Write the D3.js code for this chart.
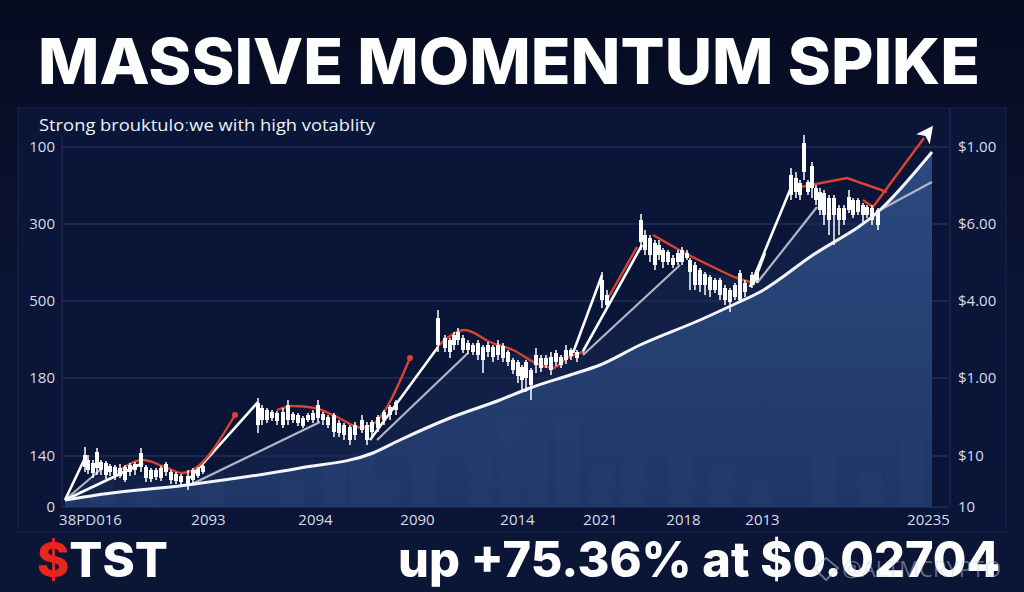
<!DOCTYPE html>
<html lang="en">
<head>
    <meta charset="UTF-8">
    <title>Massive Momentum Spike</title>
    <style>
        body { margin: 0; background: #070d24; }
        text { font-family: 'Open Sans', sans-serif; }
        .axis text { font-size: 15px; fill: #d6dcea; }
        .axis path, .axis line { display: none; }
    </style>
</head>
<body>
<script src="https://d3js.org/d3.v7.min.js"></script>
<script>

    const size = {'width': 1024, 'height': 592};
    const plot = {'left': 62, 'right': 948, 'top': 147, 'bottom': 507};

    // axis ticks (the chart's own odd labels)
    const leftTicks = [360, 283, 206, 129, 51, 0];
    const leftLabels = ['100', '300', '500', '180', '140', '0'];
    const rightLabels = ['$1.00', '$6.00', '$4.00', '$1.00', '$10', '10'];
    const xTicks = [28, 146, 253, 355, 455, 538, 621, 700, 866];
    const xLabels = ['38PD016', '2093', '2094', '2090', '2014', '2021', '2018', '2013', '20235'];

    // long smooth trend
    const trendDays = [3, 35, 125, 238, 311, 338, 388, 438, 468, 508, 538, 578, 638, 675, 698, 748, 818, 870];
    const trendVals = [7, 12, 22, 39, 54, 67, 89, 107, 119, 132, 142, 162, 187, 204, 215, 250, 297, 355];

    // faint envelope under the fan lines
    const envelope = [[3, 7], [38, 37], [128, 25], [258, 85], [315, 67], [406, 154], [521, 152],
        [618, 242], [695, 224], [755, 300], [818, 297], [870, 325]];

    // candles: [day, high, bodyTop, bodyBottom, low]
    const candles = [
        [23, 60, 52, 40, 35], [26, 52, 47, 37, 33], [31, 47, 44, 34, 29], [35, 59, 55, 39, 32],
        [39, 47, 45, 37, 32], [44, 46, 44, 32, 28], [48, 43, 41, 35, 31], [53, 42, 40, 32, 27],
        [58, 43, 39, 31, 29], [63, 42, 40, 27, 25], [68, 44, 42, 35, 31], [73, 45, 43, 37, 32],
        [79, 59, 54, 40, 35], [84, 42, 40, 29, 25], [89, 39, 37, 28, 25], [94, 39, 37, 30, 27],
        [99, 41, 39, 29, 26], [104, 45, 43, 35, 31], [109, 37, 35, 27, 23], [114, 35, 33, 26, 23],
        [119, 33, 31, 25, 22], [126, 37, 31, 21, 17], [131, 39, 37, 27, 24], [136, 40, 38, 31, 29],
        [141, 42, 41, 35, 33],
        [196, 109, 104, 82, 74], [200, 102, 99, 87, 82], [205, 99, 97, 87, 84], [210, 97, 95, 89, 86],
        [215, 96, 94, 86, 82], [221, 99, 95, 82, 79], [226, 107, 102, 87, 82], [231, 95, 93, 87, 84],
        [236, 94, 92, 84, 81], [241, 91, 89, 81, 79], [246, 94, 92, 87, 85], [251, 97, 94, 87, 84],
        [256, 107, 102, 89, 85], [261, 95, 93, 87, 82], [266, 92, 90, 82, 79], [272, 94, 92, 75, 70],
        [277, 87, 84, 74, 70], [282, 84, 82, 72, 67], [288, 82, 80, 67, 62], [293, 85, 82, 72, 67],
        [300, 92, 87, 77, 74], [305, 85, 82, 67, 62], [310, 87, 85, 75, 69], [316, 92, 90, 79, 75],
        [322, 97, 95, 87, 82], [328, 102, 100, 92, 87], [334, 107, 105, 97, 92],
        [376, 197, 189, 162, 155], [383, 172, 169, 159, 155], [388, 169, 167, 155, 149],
        [392, 175, 172, 162, 157], [396, 179, 175, 167, 162], [401, 172, 169, 157, 154],
        [406, 167, 164, 157, 153], [411, 164, 162, 155, 152], [416, 167, 164, 152, 147],
        [421, 162, 160, 147, 134], [426, 165, 162, 155, 150], [431, 162, 160, 150, 145],
        [436, 167, 162, 152, 147], [441, 164, 161, 149, 145], [446, 157, 155, 145, 141],
        [451, 149, 147, 137, 133], [456, 147, 145, 131, 124], [460, 142, 140, 127, 117],
        [464, 147, 145, 129, 115], [469, 139, 137, 122, 107], [474, 159, 152, 142, 134],
        [479, 152, 149, 139, 135], [484, 152, 149, 142, 139], [489, 155, 150, 137, 132],
        [494, 157, 154, 145, 141], [499, 152, 150, 142, 139], [504, 162, 157, 147, 143],
        [509, 159, 157, 151, 147], [515, 157, 155, 149, 145],
        [540, 235, 227, 207, 199], [545, 217, 212, 202, 199],
        [579, 293, 287, 265, 257], [583, 277, 272, 257, 252], [588, 272, 269, 252, 245],
        [593, 267, 264, 242, 237], [597, 267, 262, 252, 247], [601, 259, 257, 245, 239],
        [606, 257, 255, 245, 242], [611, 252, 249, 242, 239], [616, 257, 254, 245, 242],
        [620, 260, 257, 245, 242], [625, 257, 254, 249, 247], [628, 249, 247, 235, 217],
        [633, 245, 242, 222, 217], [638, 239, 237, 222, 215], [643, 235, 233, 222, 212],
        [648, 232, 230, 217, 210], [653, 229, 227, 217, 214], [658, 229, 227, 212, 207],
        [663, 222, 219, 207, 202], [668, 219, 217, 205, 195], [673, 224, 222, 210, 207],
        [678, 237, 234, 207, 204], [683, 227, 224, 215, 210], [690, 235, 232, 222, 219],
        [695, 239, 237, 227, 224],
        [729, 339, 332, 312, 307], [734, 335, 329, 315, 309], [738, 327, 324, 312, 307],
        [742, 372, 364, 335, 327], [746, 327, 325, 315, 312], [750, 345, 341, 319, 309],
        [754, 322, 319, 307, 302], [758, 319, 315, 297, 292], [762, 317, 314, 292, 282],
        [767, 312, 309, 287, 272], [772, 312, 309, 292, 262], [777, 302, 299, 287, 272],
        [782, 302, 299, 287, 282], [787, 317, 310, 297, 294], [791, 309, 307, 292, 289],
        [796, 309, 307, 295, 292], [801, 304, 302, 292, 285], [805, 302, 300, 292, 289],
        [810, 302, 299, 287, 282], [816, 299, 297, 282, 277]
    ];

    // white rally lines
    const swings = [
        [[3, 7], [23, 49]],
        [[3, 7], [81, 44]],
        [[128, 29], [196, 105]],
        [[308, 67], [376, 160]],
        [[511, 154], [540, 232]],
        [[520, 154], [580, 262]],
        [[688, 220], [728, 317]],
        [[691, 222], [703, 254]]
    ];

    // grey support lines
    const supports = [
        [[3, 7], [38, 37]],
        [[128, 22], [258, 85]],
        [[315, 67], [406, 154]],
        [[521, 152], [618, 242]],
        [[695, 224], [755, 300]],
        [[818, 297], [870, 325]]
    ];

    // red moving average pieces
    const averages = [
        [[55, 35], [81, 47], [103, 40], [120, 34], [126, 35], [173, 92]],
        [[215, 97], [231, 101], [253, 99], [271, 92], [301, 79], [310, 82], [348, 149]],
        [[375, 160], [403, 177], [428, 165], [451, 157], [478, 142], [491, 139], [505, 149], [521, 155]],
        [[545, 207], [575, 260]],
        [[591, 272], [621, 255], [651, 240], [675, 229], [688, 225]],
        [[733, 319], [785, 329], [825, 315]],
        [[801, 307], [811, 300], [862, 369]]
    ];
    const averageDots = [[173, 92], [348, 149]];

    // faint volume blocks: [day, volume]
    const volume = [[40, 30], [85, 22], [150, 35], [230, 28], [272, 40], [300, 55], [325, 30],
        [362, 45], [420, 62], [448, 90], [474, 70], [505, 88], [540, 40], [572, 45], [620, 55],
        [660, 38], [700, 25], [762, 52], [808, 35], [850, 68]];

    let svg = d3.select('body').append('svg')
        .attr('width', size.width)
        .attr('height', size.height);

    let defs = svg.append('defs');
    let bg = defs.append('linearGradient').attr('id', 'bg').attr('x1', 0).attr('y1', 0).attr('x2', 0).attr('y2', 1);
    bg.append('stop').attr('offset', '0%').attr('stop-color', '#060b20');
    bg.append('stop').attr('offset', '55%').attr('stop-color', '#0b1536');
    bg.append('stop').attr('offset', '100%').attr('stop-color', '#0b1535');

    let fillGrad = defs.append('linearGradient').attr('id', 'fillGrad')
        .attr('gradientUnits', 'userSpaceOnUse')
        .attr('x1', 0).attr('y1', plot.top).attr('x2', 0).attr('y2', plot.bottom);
    fillGrad.append('stop').attr('offset', '0%').attr('stop-color', '#2c4a80');
    fillGrad.append('stop').attr('offset', '100%').attr('stop-color', '#1f3767');

    defs.append('marker')
        .attr('id', 'arrow')
        .attr('viewBox', '0 0 10 10')
        .attr('refX', 1).attr('refY', 5)
        .attr('markerWidth', 7).attr('markerHeight', 7)
        .attr('markerUnits', 'strokeWidth')
        .attr('orient', 'auto')
        .append('path')
        .attr('d', 'M0,0 L10,5 L0,10 L2.5,5 Z')
        .style('fill', '#fff');

    svg.append('rect')
        .attr('width', size.width)
        .attr('height', size.height)
        .style('fill', 'url(#bg)');

    // panel
    svg.append('rect')
        .attr('x', 18).attr('y', 108)
        .attr('width', 988).attr('height', 424)
        .style('fill', '#0b1537')
        .style('stroke', '#18244a')
        .style('stroke-width', 1);

    let x = d3.scaleLinear().domain([0, 886]).range([plot.left, plot.right]);
    let y = d3.scaleLinear().domain([0, 360]).range([plot.bottom, plot.top]);

    // grid
    svg.append('g').selectAll('line')
        .data(leftTicks)
        .enter().append('line')
        .attr('x1', plot.left).attr('x2', plot.right)
        .attr('y1', d => y(d)).attr('y2', d => y(d))
        .style('stroke', '#2b3b68')
        .style('stroke-width', 1);

    svg.append('line')
        .attr('x1', plot.left).attr('x2', plot.left)
        .attr('y1', plot.top - 10).attr('y2', plot.bottom)
        .style('stroke', '#22305a');
    svg.append('line')
        .attr('x1', plot.right + 2).attr('x2', plot.right + 2)
        .attr('y1', 108).attr('y2', plot.bottom)
        .style('stroke', '#22305a');

    // filled area under the trend
    let trend = trendDays.map((d, i) => [d, trendVals[i]]);

    svg.append('path')
        .datum(envelope)
        .attr('d', d3.area()
            .curve(d3.curveLinear)
            .x(d => x(d[0]))
            .y0(y(0))
            .y1(d => y(d[1])))
        .style('fill', '#1a2d5a')
        .style('opacity', 0.45);

    svg.append('path')
        .datum(trend)
        .attr('d', d3.area()
            .curve(d3.curveMonotoneX)
            .x(d => x(d[0]))
            .y0(y(0))
            .y1(d => y(d[1])))
        .style('fill', 'url(#fillGrad)');

    // volume blocks
    svg.append('g').selectAll('rect')
        .data(volume)
        .enter().append('rect')
        .attr('x', d => x(d[0]) - 12)
        .attr('width', 24)
        .attr('y', d => y(d[1]))
        .attr('height', d => y(0) - y(d[1]))
        .style('fill', '#3a5a92')
        .style('opacity', 0.09);

    let line = d3.line()
        .x(d => x(d[0]))
        .y(d => y(d[1]));

    // grey supports
    svg.append('g').selectAll('path')
        .data(supports)
        .enter().append('path')
        .attr('d', line)
        .style('fill', 'none')
        .style('stroke', '#aeb6c8')
        .style('stroke-width', 2.2);

    // white swings
    svg.append('g').selectAll('path')
        .data(swings)
        .enter().append('path')
        .attr('d', line)
        .style('fill', 'none')
        .style('stroke', '#fff')
        .style('stroke-width', 2.6);

    // trend line
    svg.append('path')
        .datum(trend)
        .attr('d', d3.line().curve(d3.curveMonotoneX).x(d => x(d[0])).y(d => y(d[1])))
        .style('fill', 'none')
        .style('stroke', '#f4f6fb')
        .style('stroke-width', 3);

    // red averages
    svg.append('g').selectAll('path')
        .data(averages)
        .enter().append('path')
        .attr('d', (d, i) => d3.line()
            .curve(i == 5 || i == 6 ? d3.curveLinear : d3.curveMonotoneX)
            .x(p => x(p[0])).y(p => y(p[1]))(d))
        .attr('marker-end', (d, i) => i == averages.length - 1 ? 'url(#arrow)' : null)
        .style('fill', 'none')
        .style('stroke', '#d9432f')
        .style('stroke-width', 2.4);

    svg.append('g').selectAll('circle')
        .data(averageDots)
        .enter().append('circle')
        .attr('cx', d => x(d[0]))
        .attr('cy', d => y(d[1]))
        .attr('r', 3)
        .style('fill', '#d9432f');

    // candles
    let candle = svg.append('g').selectAll('g')
        .data(candles)
        .enter().append('g');
    candle.append('line')
        .attr('x1', d => x(d[0])).attr('x2', d => x(d[0]))
        .attr('y1', d => y(d[1])).attr('y2', d => y(d[4]))
        .style('stroke', '#fff')
        .style('stroke-width', 1.5);
    candle.append('rect')
        .attr('x', d => x(d[0]) - 2)
        .attr('width', 4)
        .attr('y', d => y(d[2]))
        .attr('height', d => y(d[3]) - y(d[2]))
        .style('fill', '#fff');

    // axes
    svg.append('g')
        .attr('class', 'axis')
        .attr('transform', 'translate(' + (plot.left - 7) + ',0)')
        .call(d3.axisLeft(y).tickValues(leftTicks).tickSize(0).tickPadding(0)
            .tickFormat((d, i) => leftLabels[i]));

    svg.append('g')
        .attr('class', 'axis')
        .attr('transform', 'translate(' + (plot.right + 10) + ',0)')
        .call(d3.axisRight(y).tickValues(leftTicks).tickSize(0).tickPadding(0)
            .tickFormat((d, i) => rightLabels[i]));

    svg.append('g')
        .attr('class', 'axis')
        .attr('transform', 'translate(0,' + (plot.bottom + 7) + ')')
        .call(d3.axisBottom(x).tickValues(xTicks).tickSize(0).tickPadding(0)
            .tickFormat((d, i) => xLabels[i]));

    // titles
    svg.append('text')
        .attr('x', 38).attr('y', 84)
        .attr('textLength', 942)
        .attr('lengthAdjust', 'spacingAndGlyphs')
        .text('MASSIVE MOMENTUM SPIKE')
        .style('font-family', 'Inter, sans-serif')
        .style('font-weight', 800)
        .style('font-size', '63px')
        .style('fill', '#fff');

    svg.append('text')
        .attr('x', 39).attr('y', 131)
        .attr('textLength', 336)
        .attr('lengthAdjust', 'spacingAndGlyphs')
        .text('Strong brouktulo\u02d0we with high votablity')
        .style('font-size', '16px')
        .style('fill', '#eef1f8');

    let ticker = svg.append('text')
        .attr('x', 37).attr('y', 577)
        .attr('textLength', 131)
        .attr('lengthAdjust', 'spacingAndGlyphs')
        .style('font-family', 'Inter, sans-serif')
        .style('font-weight', 800)
        .style('font-size', '48px');
    ticker.append('tspan').text('$').style('fill', '#e8261c');
    ticker.append('tspan').text('TST').style('fill', '#fff');

    svg.append('text')
        .attr('x', 398).attr('y', 577)
        .attr('textLength', 602)
        .attr('lengthAdjust', 'spacingAndGlyphs')
        .text('up +75.36% at $0.02704')
        .style('font-family', 'Inter, sans-serif')
        .style('font-weight', 800)
        .style('font-size', '49px')
        .style('fill', '#fff');

    // watermark
    svg.append('path')
        .attr('d', 'M826,558 L838,568 L826,580 L814,568 Z')
        .style('fill', 'none')
        .style('stroke', '#c9d0e0')
        .style('stroke-width', 2)
        .style('opacity', 0.5);
    svg.append('text')
        .attr('x', 842).attr('y', 577)
        .text('@ALTMCRYPTO')
        .style('font-size', '22px')
        .style('fill', '#c9d0e0')
        .style('opacity', 0.45);

</script>
</body>
</html>
